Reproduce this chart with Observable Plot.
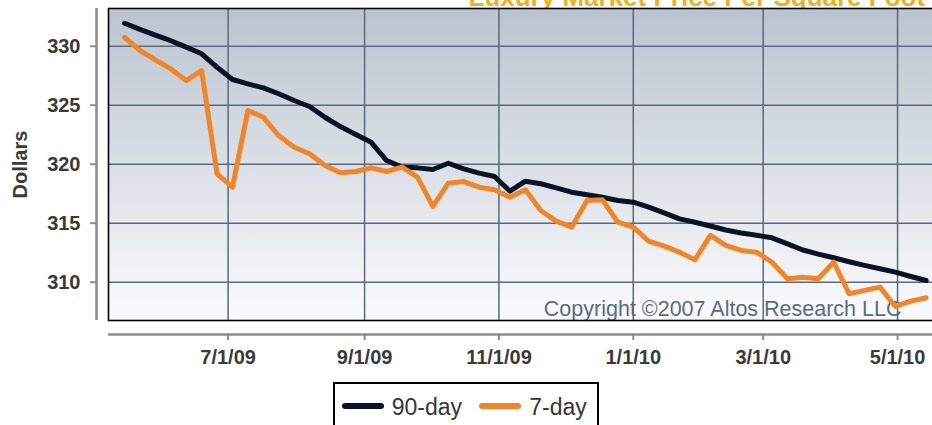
<!DOCTYPE html>
<html>
<head>
<meta charset="utf-8">
<script src="https://cdn.jsdelivr.net/npm/d3@7"></script>
<script src="https://cdn.jsdelivr.net/npm/@observablehq/plot@0.6"></script>
<style>
  html, body { margin: 0; padding: 0; background: #fff; overflow: hidden; }
  #wrap { position: relative; width: 932px; height: 425px; overflow: hidden; }
  #legend { position: absolute; left: 333px; top: 382px; width: 266px; height: 70px; box-sizing: border-box;
            border: 2px solid #000; background: #fff; font-family: 'Liberation Sans', Arial, sans-serif; }
  #legend .sw { position: absolute; width: 42px; height: 5.5px; border-radius: 3px; top: 19.3px; }
  #legend .lb { position: absolute; font-size: 23px; line-height: 23px; color: #363636; top: 11.5px; white-space: nowrap; }
</style>
</head>
<body>
<div id="wrap"><div id="chart"></div>
  <div id="legend">
    <div class="sw" style="left:6.7px;background:#0a1326"></div>
    <div class="lb" style="left:56.7px">90-day</div>
    <div class="sw" style="left:144.3px;background:#f0852a"></div>
    <div class="lb" style="left:194.3px">7-day</div>
  </div>
</div>
<script>
const title = "Luxury Market Price Per Square Foot";
const copyright = "Copyright \u00a92007 Altos Research LLC";
const yLabel = "Dollars";

const dates = [
  "2009-05-15","2009-05-22","2009-05-29","2009-06-05","2009-06-12","2009-06-19","2009-06-26",
  "2009-07-03","2009-07-10","2009-07-17","2009-07-24","2009-07-31","2009-08-07","2009-08-14",
  "2009-08-21","2009-08-28","2009-09-04","2009-09-11","2009-09-18","2009-09-25","2009-10-02",
  "2009-10-09","2009-10-16","2009-10-23","2009-10-30","2009-11-06","2009-11-13","2009-11-20",
  "2009-11-27","2009-12-04","2009-12-11","2009-12-18","2009-12-25","2010-01-01","2010-01-08",
  "2010-01-15","2010-01-22","2010-01-29","2010-02-05","2010-02-12","2010-02-19","2010-02-26",
  "2010-03-05","2010-03-12","2010-03-19","2010-03-26","2010-04-02","2010-04-09","2010-04-16",
  "2010-04-23","2010-04-30","2010-05-07","2010-05-14"
];

const day90 = [
  331.95, 331.43, 330.95, 330.47, 329.93, 329.36, 328.22, 327.18, 326.81, 326.47,
  325.97, 325.40, 324.89, 323.98, 323.19, 322.52, 321.86, 320.31, 319.75, 319.69,
  319.55, 320.08, 319.61, 319.24, 318.96, 317.71, 318.56, 318.34, 318.00, 317.63,
  317.41, 317.20, 316.92, 316.78, 316.36, 315.88, 315.37, 315.08, 314.76, 314.42,
  314.17, 313.97, 313.76, 313.24, 312.73, 312.38, 312.07, 311.73, 311.42, 311.14,
  310.85, 310.48, 310.14
];

const day7 = [
  330.76, 329.64, 328.85, 328.08, 327.09, 327.94, 319.19, 318.05, 324.55, 323.98,
  322.43, 321.44, 320.88, 319.89, 319.27, 319.38, 319.69, 319.38, 319.75, 318.90,
  316.42, 318.39, 318.53, 318.05, 317.83, 317.20, 317.83, 316.07, 315.17, 314.66,
  316.92, 316.98, 315.08, 314.66, 313.47, 313.05, 312.54, 311.90, 313.97, 313.12,
  312.69, 312.54, 311.69, 310.29, 310.42, 310.29, 311.69, 309.02, 309.30, 309.58,
  307.94, 308.39, 308.68
];

const yTicks = [310, 315, 320, 325, 330];
const xTickLabels = ["7/1/09", "9/1/09", "11/1/09", "1/1/10", "3/1/10", "5/1/10"];

const parseMDY = s => { const [m, d, y] = s.split("/").map(Number); return new Date(Date.UTC(2000 + y, m - 1, d)); };
const xTicks = xTickLabels.map(parseMDY);
const fmtX = d => xTickLabels[xTicks.findIndex(t => +t === +d)];

const data = dates.map((d, i) => ({date: new Date(d + "T00:00:00Z"), v90: day90[i], v7: day7[i]}));

const xDomain = [new Date("2009-05-07T17:00:00Z"), new Date("2010-05-25T01:00:00Z")];
const yDomain = [306.75, 333.2];

const font = "'Liberation Sans', Arial, sans-serif";

const svg = Plot.plot({
  width: 960,
  height: 380,
  marginLeft: 108,
  marginRight: 10,
  marginTop: 8,
  marginBottom: 60,
  style: {fontFamily: font, background: "transparent", overflow: "visible", maxWidth: "none"},
  x: {type: "utc", domain: xDomain},
  y: {domain: yDomain},
  marks: [
    Plot.text([title], {frameAnchor: "top-left", dx: 360, dy: -3, textAnchor: "start", lineAnchor: "bottom",
      fontSize: 26, fontWeight: "bold", fill: "#f2b01e"}),
    Plot.frame({fill: "url(#bgGrad)", stroke: "none"}),
    Plot.text([copyright], {frameAnchor: "bottom-right", dx: -49, dy: -4.5, textAnchor: "end", lineAnchor: "bottom",
      fontSize: 21.5, fill: "#5b6b7f"}),
    Plot.gridX({ticks: xTicks, stroke: "#5b6a7a", strokeOpacity: 1, strokeWidth: 1.5}),
    Plot.gridY({ticks: yTicks, stroke: "#5b6a7a", strokeOpacity: 1, strokeWidth: 1.5}),
    Plot.frame({stroke: "#000", strokeWidth: 1.6}),
    Plot.ruleX([xDomain[0]], {dx: -12, stroke: "#8c8c8c", strokeWidth: 2.5}),
    Plot.ruleY([yDomain[0]], {dy: 14, stroke: "#8c8c8c", strokeWidth: 2.5}),
    Plot.axisY({ticks: yTicks, tickSize: 6, tickPadding: 10, dx: -12, fontSize: 20, fontWeight: "bold",
      fill: "#3a3a3a", stroke: "#8c8c8c", strokeWidth: 2, label: null}),
    Plot.axisX({ticks: xTicks, tickFormat: fmtX, tickSize: 6, tickPadding: 9, dy: 14, fontSize: 20, fontWeight: "bold",
      fill: "#3a3a3a", stroke: "#8c8c8c", strokeWidth: 2, label: null}),
    Plot.text([yLabel], {frameAnchor: "left", dx: -82, rotate: -90, textAnchor: "middle", lineAnchor: "bottom",
      fontSize: 20, fontWeight: "bold", fill: "#3a3a3a"}),
    Plot.line(data, {x: "date", y: "v90", stroke: "#0a1326", strokeWidth: 5, strokeLinejoin: "round", strokeLinecap: "round"}),
    Plot.line(data, {x: "date", y: "v7", stroke: "#f0852a", strokeWidth: 5, strokeLinejoin: "round", strokeLinecap: "round"})
  ]
});

const defs = d3.select(svg).insert("defs", ":first-child");
const grad = defs.append("linearGradient").attr("id", "bgGrad").attr("x1", 0).attr("y1", 0).attr("x2", 0).attr("y2", 1);
grad.append("stop").attr("offset", "0%").attr("stop-color", "#bac4d0");
grad.append("stop").attr("offset", "100%").attr("stop-color", "#fbfbfc");

svg.style.maxWidth = "none";
svg.style.display = "block";
document.getElementById("chart").appendChild(svg);
</script>
</body>
</html>
